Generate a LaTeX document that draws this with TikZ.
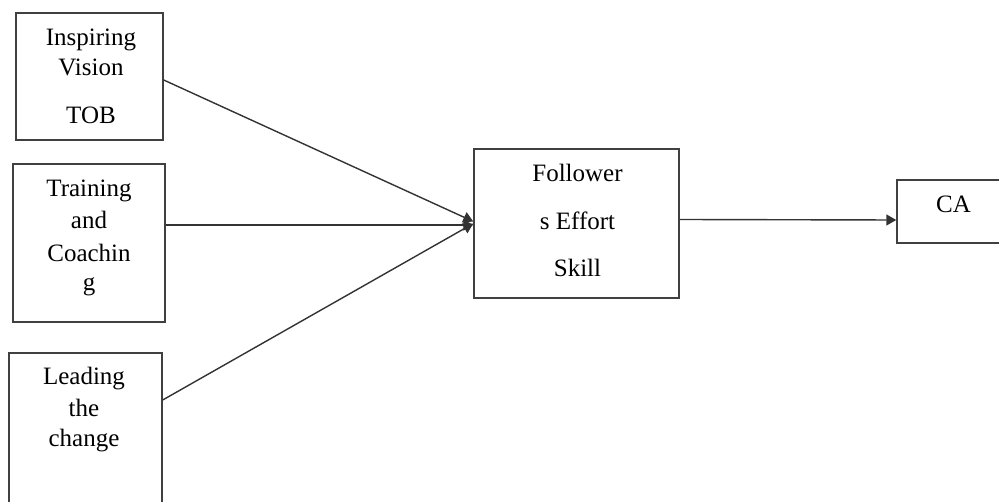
\documentclass[tikz,border=0pt]{standalone}
\usepackage{fontspec}
\setmainfont{Liberation Serif}
\usetikzlibrary{arrows.meta}

\tikzset{
  box/.style={draw=black!75, line width=1.4pt, fill=white, inner sep=0pt},
  lbl/.style={anchor=base, inner sep=0pt, font=\fontsize{25}{29}\selectfont},
  link/.style={draw=black!80, line width=1.4pt, -{Triangle[length=10pt,width=11pt]}}
}

\begin{document}
\begin{tikzpicture}[x=1pt, y=-1pt]
  \useasboundingbox (0,0) rectangle (999,502);
  \clip (0,0) rectangle (999,502);

  % boxes
  \node[box, minimum width=147pt, minimum height=127pt] (b1) at (89.5,76.5) {};
  \node[box, minimum width=152pt, minimum height=158pt] (b2) at (89,243) {};
  \node[box, minimum width=153pt, minimum height=157pt] (b3) at (85.5,431.5) {};
  \node[box, minimum width=205pt, minimum height=149pt] (b4) at (576.5,223.5) {};
  \node[box, minimum width=112pt, minimum height=63pt] (b5) at (953,211.5) {};

  % labels
  \node[lbl] (l1a) at (91,46) {Inspiring};
  \node[lbl] (l1b) at (91,76) {Vision};
  \node[lbl] (l1c) at (91,124) {TOB};

  \node[lbl] (l2a) at (89,197) {Training};
  \node[lbl] (l2b) at (89,229) {and};
  \node[lbl] (l2c) at (89,262) {Coachin};
  \node[lbl] (l2d) at (89,291) {g};

  \node[lbl] (l3a) at (84,385) {Leading};
  \node[lbl] (l3b) at (84,417) {the};
  \node[lbl] (l3c) at (84,447) {change};

  \node[lbl] (l4a) at (577.5,182) {Follower};
  \node[lbl] (l4b) at (577.5,230) {s Effort};
  \node[lbl] (l4c) at (577.5,277) {Skill};

  \node[lbl] (l5) at (953.5,213) {CA};

  % connectors
  \draw[link] ([yshift=-3.5pt]b1.east) -- ([yshift=2pt]b4.west);
  \draw[link] ([yshift=18pt]b2.east) -- ([yshift=-1.5pt]b4.west);
  \draw[link] ([yshift=31.5pt]b3.east) -- ([yshift=0pt]b4.west);
  \draw[link] ([yshift=4pt]b4.east) -- ([yshift=-8.5pt]b5.west);
\end{tikzpicture}
\end{document}
